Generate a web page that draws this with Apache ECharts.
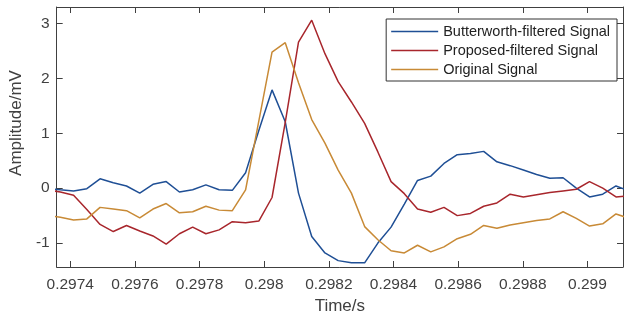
<!DOCTYPE html>
<html><head><meta charset="utf-8">
<script src="https://cdn.jsdelivr.net/npm/echarts@6/dist/echarts.min.js"></script>
<style>html,body{margin:0;padding:0;background:#fff}#c{width:625px;height:321px}</style>
</head><body><div id="c"></div>
<script>
const times = [0.2973285,0.2973694,0.2974103,0.2974513,0.2974922,0.2975331,0.2975740,0.2976150,0.2976559,0.2976968,
  0.2977377,0.2977787,0.2978196,0.2978605,0.2979014,0.2979424,0.2979833,0.2980242,0.2980651,0.2981061,
  0.2981470,0.2981879,0.2982288,0.2982698,0.2983107,0.2983516,0.2983925,0.2984335,0.2984744,0.2985153,
  0.2985562,0.2985972,0.2986381,0.2986790,0.2987199,0.2987609,0.2988018,0.2988427,0.2988836,0.2989246,
  0.2989655,0.2990064,0.2990473,0.2990883,0.2991292];
const butterworth = [0.0,-0.03,-0.05,-0.01,0.17,0.10,0.04,-0.09,0.07,0.12,
  -0.07,-0.03,0.06,-0.03,-0.04,0.28,1.05,1.79,1.21,-0.09,
  -0.88,-1.18,-1.32,-1.36,-1.36,-1.0,-0.71,-0.29,0.14,0.22,
  0.45,0.61,0.63,0.67,0.48,0.41,0.33,0.25,0.18,0.19,
  0.0,-0.16,-0.11,0.04,-0.05];
const proposed = [-0.03,-0.07,-0.13,-0.39,-0.66,-0.79,-0.68,-0.78,-0.87,-1.02,
  -0.83,-0.71,-0.83,-0.76,-0.61,-0.63,-0.60,-0.17,1.2,2.66,
  3.06,2.45,1.94,1.57,1.18,0.66,0.12,-0.10,-0.38,-0.44,
  -0.35,-0.50,-0.46,-0.33,-0.27,-0.11,-0.16,-0.12,-0.08,-0.05,
  -0.02,0.12,0.0,-0.16,-0.14];
const original = [-0.50,-0.53,-0.58,-0.56,-0.35,-0.38,-0.41,-0.54,-0.38,-0.28,
  -0.45,-0.43,-0.33,-0.40,-0.41,-0.03,1.22,2.48,2.65,1.92,
  1.25,0.82,0.33,-0.09,-0.70,-0.94,-1.14,-1.18,-1.04,-1.16,
  -1.07,-0.92,-0.84,-0.68,-0.73,-0.67,-0.63,-0.59,-0.56,-0.43,
  -0.55,-0.69,-0.65,-0.47,-0.55];
const seriesNames = ['Butterworth-filtered Signal','Proposed-filtered Signal','Original Signal'];
const xTicks = [0.2974,0.2976,0.2978,0.298,0.2982,0.2984,0.2986,0.2988,0.299];
const yTicks = [-1,0,1,2,3];
const xRange = [0.297358, 0.29911];
const yRange = [-1.436, 3.30];

const colors = ['#1f4f95','#a8262c','#c88a36'];
const FONT = '"Liberation Sans", Arial, Helvetica, sans-serif';
const axisColor = '#404040';
function pairs(vals){ return times.map((t,i)=>[t, vals[i]]); }

const chart = echarts.init(document.getElementById('c'), null, {renderer:'canvas'});
const baseX = {
  type:'value', min:xRange[0], max:xRange[1],
  splitLine:{show:false},
  axisLine:{show:true, onZero:false, lineStyle:{color:axisColor, width:1}},
  axisTick:{show:true, inside:true, length:6, customValues:xTicks, lineStyle:{color:axisColor}}
};
const baseY = {
  type:'value', min:yRange[0], max:yRange[1],
  splitLine:{show:false},
  axisLine:{show:true, onZero:false, lineStyle:{color:axisColor, width:1}},
  axisTick:{show:true, inside:true, length:6, customValues:yTicks, lineStyle:{color:axisColor}}
};
chart.setOption({
  animation:false,
  backgroundColor:'#fff',
  grid:{left:52, right:2, top:7, bottom:54, containLabel:false},
  xAxis:[
    Object.assign({}, baseX, {position:'bottom',
      name:'Time/s', nameLocation:'middle', nameGap:30,
      nameTextStyle:{fontSize:17, color:axisColor, fontFamily:FONT},
      axisLabel:{show:true, customValues:xTicks, margin:10, fontSize:15.5, color:axisColor, fontFamily:FONT}}),
    Object.assign({}, baseX, {position:'top', axisLabel:{show:false}})
  ],
  yAxis:[
    Object.assign({}, baseY, {position:'left',
      name:'Amplitude/mV', nameLocation:'middle', nameGap:27,
      nameTextStyle:{fontSize:17, color:axisColor, fontFamily:FONT, padding:[0,0,0,28]},
      axisLabel:{show:true, customValues:yTicks, margin:7, fontSize:15.5, color:axisColor, fontFamily:FONT}}),
    Object.assign({}, baseY, {position:'right', axisLabel:{show:false}})
  ],
  legend:{
    orient:'vertical', right:8, top:19,
    icon:'rect', itemWidth:47, itemHeight:1.5, itemGap:4,
    padding:[5,7,4,5],
    borderColor:'#333', borderWidth:1, borderRadius:0, backgroundColor:'#fff',
    textStyle:{fontSize:14.5, color:'#222', fontFamily:FONT},
    data:seriesNames
  },
  series:[
    {name:seriesNames[0], type:'line', data:pairs(butterworth), symbol:'none', showSymbol:false, clip:true,
     lineStyle:{color:colors[0], width:1.5}, itemStyle:{color:colors[0]}},
    {name:seriesNames[1], type:'line', data:pairs(proposed), symbol:'none', showSymbol:false, clip:true,
     lineStyle:{color:colors[1], width:1.5}, itemStyle:{color:colors[1]}},
    {name:seriesNames[2], type:'line', data:pairs(original), symbol:'none', showSymbol:false, clip:true,
     lineStyle:{color:colors[2], width:1.5}, itemStyle:{color:colors[2]}}
  ]
});
</script>
</body></html>
